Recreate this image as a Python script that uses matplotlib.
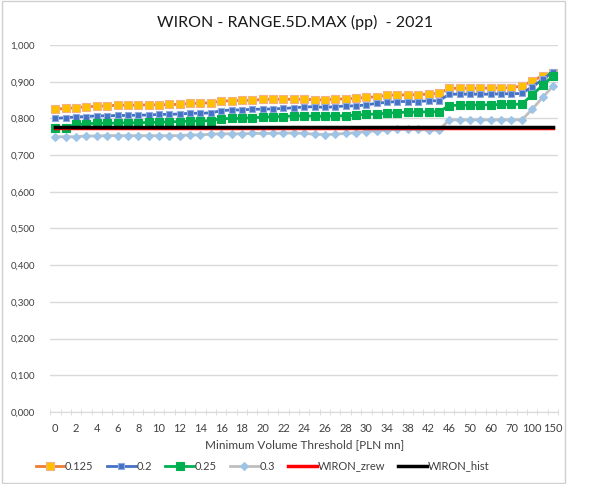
import matplotlib
matplotlib.use("Agg")
import matplotlib.pyplot as plt
from matplotlib.patches import Rectangle
from matplotlib.ticker import FuncFormatter, FixedLocator

# ============================================================
# DATA
# ============================================================

THRESHOLDS = list(range(0, 31)) + list(range(32, 51, 2)) + [55, 60, 65, 70, 80, 100, 120, 150]

S_0125 = [0.825, 0.827, 0.829, 0.832, 0.833, 0.834, 0.836, 0.836, 0.836, 0.837,
          0.837, 0.838, 0.838, 0.841, 0.841, 0.843, 0.847, 0.848, 0.849, 0.849,
          0.852, 0.852, 0.852, 0.852, 0.852, 0.851, 0.850, 0.853, 0.853, 0.855,
          0.857, 0.859, 0.863, 0.864, 0.864, 0.865, 0.866, 0.868, 0.882, 0.882,
          0.882, 0.882, 0.883, 0.883, 0.884, 0.888, 0.902, 0.916, 0.925]
S_02 = [0.800, 0.802, 0.804, 0.805, 0.807, 0.807, 0.808, 0.808, 0.809, 0.809,
        0.811, 0.811, 0.812, 0.814, 0.814, 0.815, 0.821, 0.823, 0.823, 0.825,
        0.825, 0.826, 0.827, 0.829, 0.831, 0.832, 0.830, 0.832, 0.834, 0.834,
        0.837, 0.841, 0.844, 0.846, 0.846, 0.846, 0.848, 0.848, 0.866, 0.866,
        0.866, 0.866, 0.866, 0.867, 0.867, 0.868, 0.886, 0.906, 0.927]
S_025 = [0.775, 0.775, 0.784, 0.785, 0.787, 0.787, 0.787, 0.788, 0.788, 0.789,
         0.789, 0.791, 0.791, 0.793, 0.793, 0.794, 0.799, 0.800, 0.800, 0.802,
         0.803, 0.805, 0.805, 0.807, 0.807, 0.806, 0.806, 0.807, 0.807, 0.809,
         0.811, 0.812, 0.814, 0.816, 0.817, 0.817, 0.818, 0.818, 0.835, 0.836,
         0.836, 0.837, 0.837, 0.838, 0.838, 0.839, 0.864, 0.890, 0.915]
S_03 = [0.750, 0.750, 0.750, 0.752, 0.752, 0.753, 0.753, 0.753, 0.753, 0.753,
        0.753, 0.753, 0.753, 0.755, 0.755, 0.757, 0.758, 0.758, 0.758, 0.759,
        0.759, 0.759, 0.760, 0.760, 0.759, 0.757, 0.756, 0.757, 0.759, 0.761,
        0.764, 0.766, 0.768, 0.770, 0.770, 0.770, 0.768, 0.768, 0.796, 0.796,
        0.796, 0.796, 0.796, 0.796, 0.796, 0.796, 0.825, 0.857, 0.888]
WIRON_ZREW = [0.7745] * len(THRESHOLDS)
WIRON_HIST = [0.7755] * len(THRESHOLDS)

# ============================================================
# STYLING
# ============================================================

plt.rcParams["font.family"] = ["Lato", "DejaVu Sans"]
TEXT_COLOR = "#404040"
GRID_COLOR = "#d9d9d9"

fig = plt.figure(figsize=(5.90, 4.84), dpi=100)
ax = fig.add_axes([0.085, 0.149, 0.861, 0.758])

x = list(range(len(THRESHOLDS)))

ax.plot(x, S_0125, color="#ED7D31", lw=2, marker="s", ms=5.5,
        mfc="#FFC000", mec="#F4B183", mew=0.8, label="0.125", zorder=3)
ax.plot(x, S_02, color="#4472C4", lw=2, marker="s", ms=5,
        mfc="#4472C4", mec="#8FAADC", mew=0.8, label="0.2", zorder=4)
ax.plot(x, S_025, color="#00B050", lw=2, marker="s", ms=5.5,
        mfc="#00B050", mec="#00B050", mew=0.8, label="0.25", zorder=5)
ax.plot(x, S_03, color="#BFBFBF", lw=2, marker="D", ms=4.5,
        mfc="#9DC3E6", mec="#9DC3E6", mew=0.8, label="0.3", zorder=6)
ax.plot(x, WIRON_ZREW, color="#FF0000", lw=2.5, label="WIRON_zrew", zorder=7)
ax.plot(x, WIRON_HIST, color="#000000", lw=2.5, label="WIRON_hist", zorder=8)

ax.set_xlim(-0.5, len(THRESHOLDS) - 0.5)
ax.set_ylim(0, 1.0)
ax.set_yticks([i / 10 for i in range(11)])
ax.yaxis.set_major_formatter(FuncFormatter(lambda v, _: f"{v:.3f}".replace(".", ",")))
ax.grid(axis="y", color=GRID_COLOR, lw=1)
ax.set_axisbelow(True)

ax.set_xticks(x[::2])
ax.set_xticklabels([str(t) for t in THRESHOLDS[::2]])
ax.xaxis.set_minor_locator(FixedLocator([i - 0.5 for i in range(len(THRESHOLDS) + 1)]))
ax.tick_params(axis="x", which="major", length=0, labelsize=8, colors=TEXT_COLOR, pad=8)
ax.tick_params(axis="x", which="minor", length=5, direction="inout", color=GRID_COLOR)
ax.tick_params(axis="y", length=0, labelsize=7, colors=TEXT_COLOR, pad=11)

for side in ["top", "right", "left"]:
    ax.spines[side].set_visible(False)
ax.spines["bottom"].set_color(GRID_COLOR)

ax.set_xlabel("Minimum Volume Threshold [PLN mn]", fontsize=8.5, color=TEXT_COLOR, labelpad=4)
fig.suptitle("WIRON - RANGE.5D.MAX (pp)  - 2021", fontsize=11.5, color="#1a1a1a", y=0.97)

fig.legend(loc="center", bbox_to_anchor=(0.445, 0.037), ncol=6, frameon=False,
           fontsize=8, handlelength=2.6, handletextpad=0.05, columnspacing=1.2,
           labelcolor=TEXT_COLOR)

# chart frame
fig.patches.append(Rectangle((0.003, 0.003), 0.955, 0.994, transform=fig.transFigure,
                             fill=False, edgecolor="#d0d0d0", lw=1))

fig.savefig("out.png", dpi=100)
